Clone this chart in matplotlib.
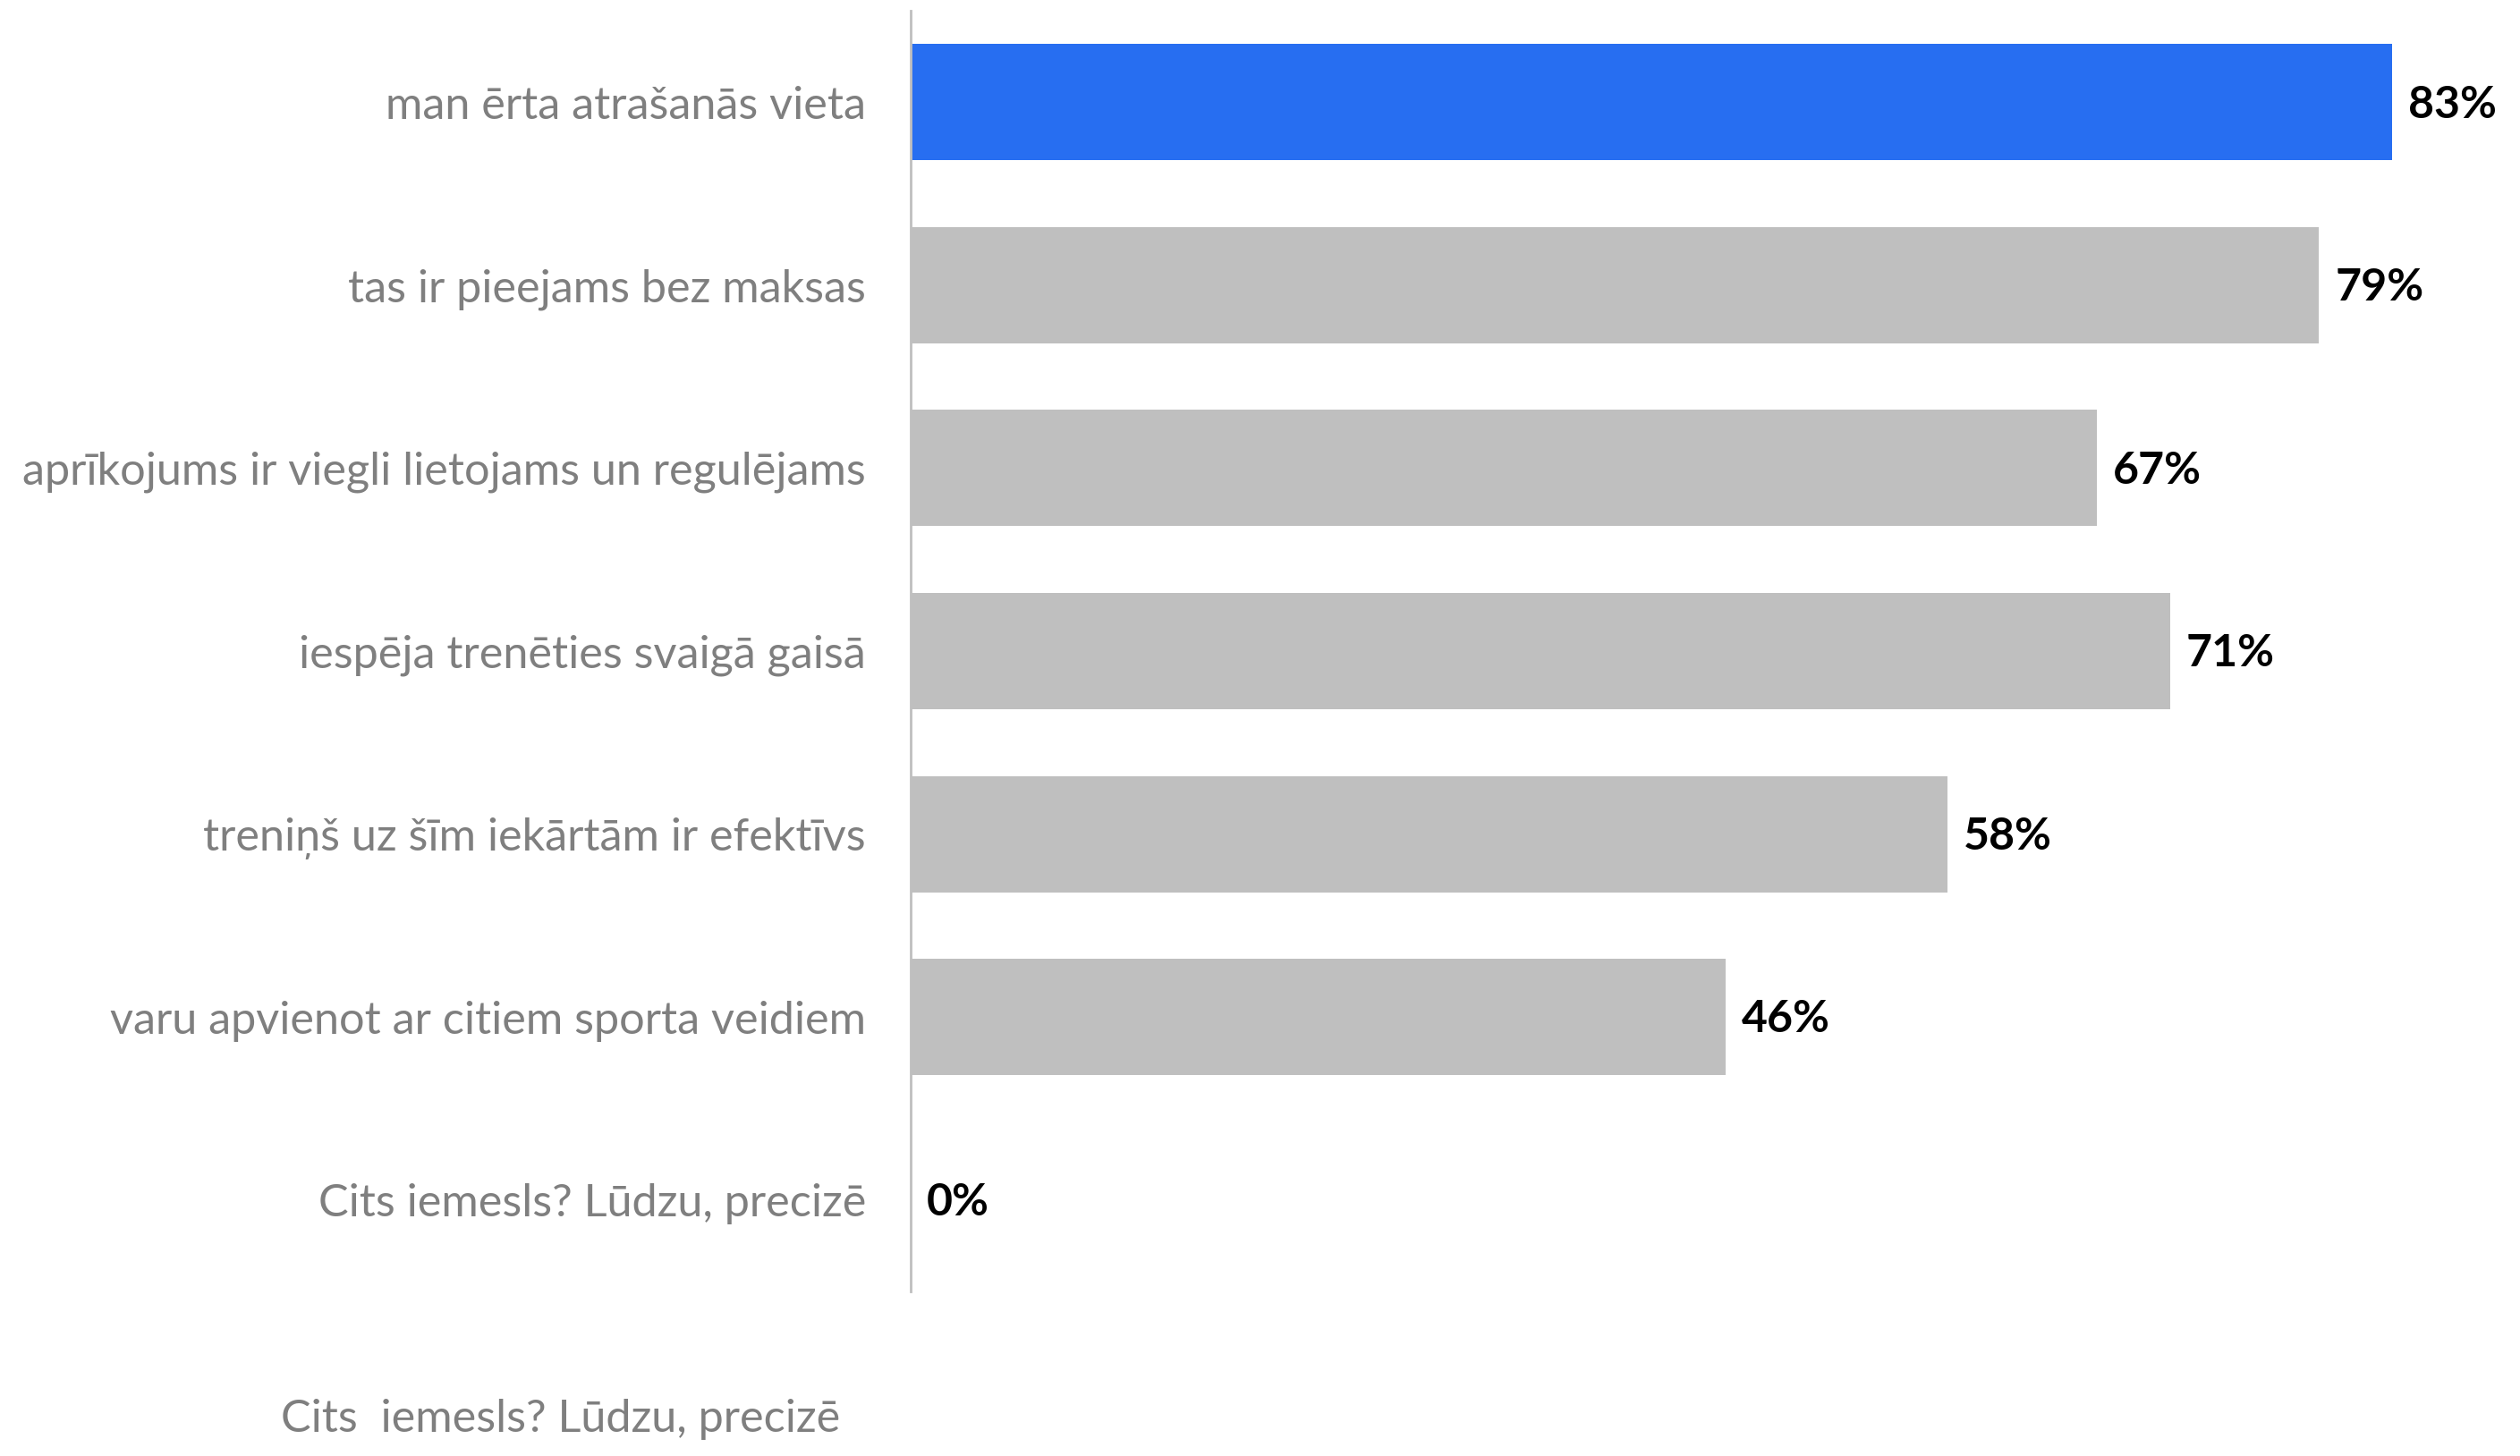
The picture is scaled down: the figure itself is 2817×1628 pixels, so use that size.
import matplotlib
matplotlib.use("Agg")
import matplotlib.pyplot as plt

categories = [
    "man ērta atrašanās vieta",
    "tas ir pieejams bez maksas",
    "aprīkojums ir viegli lietojams un regulējams",
    "iespēja trenēties svaigā gaisā",
    "treniņš uz šīm iekārtām ir efektīvs",
    "varu apvienot ar citiem sporta veidiem",
    "Cits iemesls? Lūdzu, precizē",
]
values = [83.3, 79.2, 66.7, 70.8, 58.3, 45.8, 0]
value_labels = ["83%", "79%", "67%", "71%", "58%", "46%", "0%"]
highlight_color = "#276EF1"
base_color = "#BFBFBF"
footer_text = "Cits  iemesls? Lūdzu, precizē"

plt.rcParams['font.family'] = ['Lato', 'DejaVu Sans']

W, H = 2817, 1628
fig = plt.figure(figsize=(W / 100, H / 100), dpi=100)
ax_left, ax_right = 1018, 1018 + 90 * 19.88
ax_top, ax_bot = 12, 1444
ax = fig.add_axes([ax_left / W, 1 - ax_bot / H, (ax_right - ax_left) / W, (ax_bot - ax_top) / H])

n = len(categories)
ypos = list(range(n))
colors = [highlight_color] + [base_color] * (n - 1)
ax.barh(ypos, values, height=0.635, color=colors)
ax.set_ylim(n - 0.5, -0.5)
ax.set_xlim(0, 90)

ax.set_yticks(ypos)
ax.set_yticklabels(categories, fontsize=36.3, color="#7F7F7F")
ax.tick_params(axis="y", length=0, pad=36)
ax.set_xticks([])
for s in ["top", "right", "bottom"]:
    ax.spines[s].set_visible(False)
ax.spines["left"].set_color("#BFBFBF")
ax.spines["left"].set_linewidth(2)

for y, v, lab in zip(ypos, values, value_labels):
    ax.annotate(lab, xy=(v, y), xytext=(13, -2), textcoords="offset points",
                va="center", ha="left", fontsize=36, fontweight="bold", color="black")

fig.text(939 / W, 1 - 1587 / H, footer_text, ha="right", va="center",
         fontsize=36.3, color="#7F7F7F")

fig.savefig("out.png", dpi=100)
